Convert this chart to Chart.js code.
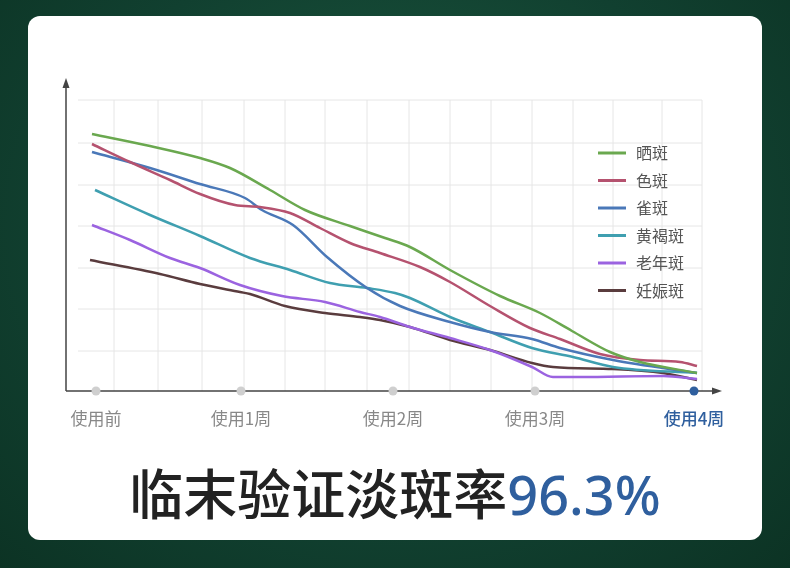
<!DOCTYPE html>
<html><head><meta charset="utf-8">
<script src="https://cdn.jsdelivr.net/npm/chart.js@4"></script>
<style>
html,body{margin:0;padding:0;width:790px;height:568px;overflow:hidden;
background:radial-gradient(ellipse at 50% 40%,#1d5a3f 0%,#114030 60%,#0c3324 100%);font-family:"Noto Sans CJK SC","Noto Sans",sans-serif;}
#card{position:absolute;left:28px;top:16px;width:734px;height:524px;background:#fff;border-radius:12px;}
#cv{position:absolute;left:0;top:0;}
#title{position:absolute;left:0;width:790px;top:454px;text-align:center;font-size:54px;color:#222;font-weight:500;line-height:76px}
#title span{color:#2f5f9e;font-family:"Noto Sans",sans-serif;}
</style></head><body>
<div id="card"></div>
<canvas id="cv" width="790" height="568"></canvas>
<div id="title">临末验证淡斑率<span>96.3%</span></div>
<script>
// x in horizontal plot units, y in vertical plot units (0 = axis)
const xLabels=["使用前","使用1周","使用2周","使用3周","使用4周"];
const xLabelPos=[96,241,393,535,694];
const xGrid=[114,158,202,244,285,325,367,409,450,491,532,573,613,662,702];
const yGrid=[40,82,123,165,206,248,291];
const names=["晒斑","色斑","雀斑","黄褐斑","老年斑","妊娠斑"];
const colors=["#6aa84f","#b5526f","#4a78b8","#3f9fb0","#9b63e0","#5a3c3e"];
const s1X=[92,150,200,230,270,305,350,385,410,450,500,540,572,610,640,697];
const s1Y=[134,146,158,168,190,210,226,238,247,270,296,313,331,352,362,373];
const s2X=[92,130,170,200,235,260,290,320,350,380,420,450,490,530,560,600,640,680,697];
const s2Y=[144,162,180,194,205,207,213,228,243,253,267,282,306,328,339,354,360,362,366];
const s3X=[92,150,200,245,262,293,327,367,400,450,490,532,560,613,697];
const s3Y=[152,168,184,198,210,225,257,288,306,322,332,339,348,360,373];
const s4X=[95,150,200,250,290,330,367,395,410,450,490,532,573,613,697];
const s4Y=[190,215,236,258,270,283,288,293,298,317,332,348,357,367,373];
const s5X=[92,130,170,200,240,282,325,360,380,410,450,490,532,553,580,663,697];
const s5Y=[225,240,258,268,285,296,302,312,317,327,338,350,367,377,377,376,379];
const s6X=[90,160,200,240,250,285,325,360,380,410,450,490,532,553,613,663,697];
const s6Y=[260,274,284,292,294,306,313,317,320,327,340,350,363,367,369,373,380];
const XS=[s1X,s2X,s3X,s4X,s5X,s6X], YS=[s1Y,s2Y,s3Y,s4Y,s5Y,s6Y];
const AX=391;
const datasets=names.map((n,i)=>({label:n,borderColor:colors[i],backgroundColor:colors[i],borderWidth:2.5,pointRadius:0,
 cubicInterpolationMode:'monotone',data:XS[i].map((x,j)=>({x:x,y:AX-YS[i][j]}))}));
const deco={id:'deco',
 beforeDatasetsDraw(c){const ctx=c.ctx,X=c.scales.x,Y=c.scales.y;ctx.save();ctx.strokeStyle='#e6e6e6';ctx.lineWidth=1;
  xGrid.forEach(g=>{const p=X.getPixelForValue(g);ctx.beginPath();ctx.moveTo(p,Y.getPixelForValue(291));ctx.lineTo(p,Y.getPixelForValue(0));ctx.stroke();});
  yGrid.forEach(g=>{const p=Y.getPixelForValue(g);ctx.beginPath();ctx.moveTo(X.getPixelForValue(78),p);ctx.lineTo(X.getPixelForValue(702),p);ctx.stroke();});
  ctx.restore();},
 afterDatasetsDraw(c){const ctx=c.ctx,X=c.scales.x,Y=c.scales.y;ctx.save();
  const x0=X.getPixelForValue(66),y0=Y.getPixelForValue(0);
  ctx.strokeStyle='#444';ctx.fillStyle='#444';ctx.lineWidth=1.5;
  ctx.beginPath();ctx.moveTo(x0,y0);ctx.lineTo(X.getPixelForValue(716),y0);ctx.moveTo(x0,y0);ctx.lineTo(x0,Y.getPixelForValue(305));ctx.stroke();
  ctx.beginPath();ctx.moveTo(X.getPixelForValue(722),y0);ctx.lineTo(X.getPixelForValue(712),y0-3.5);ctx.lineTo(X.getPixelForValue(712),y0+3.5);ctx.fill();
  ctx.beginPath();ctx.moveTo(x0,Y.getPixelForValue(313));ctx.lineTo(x0-3.5,Y.getPixelForValue(303));ctx.lineTo(x0+3.5,Y.getPixelForValue(303));ctx.fill();
  xLabelPos.forEach((p,i)=>{const px=X.getPixelForValue(p);const last=i===xLabelPos.length-1;
   ctx.fillStyle=last?'#2f5f9e':'#cfcfcf';ctx.beginPath();ctx.arc(px,y0,4.5,0,Math.PI*2);ctx.fill();
   ctx.fillStyle=last?'#2f5f9e':'#888';ctx.font=(last?'500 ':'')+'17px "Noto Sans CJK SC"';ctx.textAlign='center';ctx.textBaseline='middle';
   ctx.fillText(xLabels[i],px,y0+28);});
  ctx.font='16px "Noto Sans CJK SC"';ctx.textAlign='left';
  names.forEach((n,i)=>{const yy=153+i*27.5;ctx.strokeStyle=colors[i];ctx.lineWidth=3;ctx.beginPath();ctx.moveTo(598,yy);ctx.lineTo(626,yy);ctx.stroke();
   ctx.fillStyle='#555';ctx.fillText(n,636,yy);});
  ctx.restore();}};
new Chart(document.getElementById('cv'),{type:'line',data:{datasets},plugins:[deco],
 options:{responsive:false,animation:false,layout:{padding:{left:66,right:68,top:78,bottom:177}},
  plugins:{legend:{display:false},tooltip:{enabled:false}},
  scales:{x:{type:'linear',min:66,max:722,display:false},y:{min:0,max:313,display:false}}}});
</script></body></html>
